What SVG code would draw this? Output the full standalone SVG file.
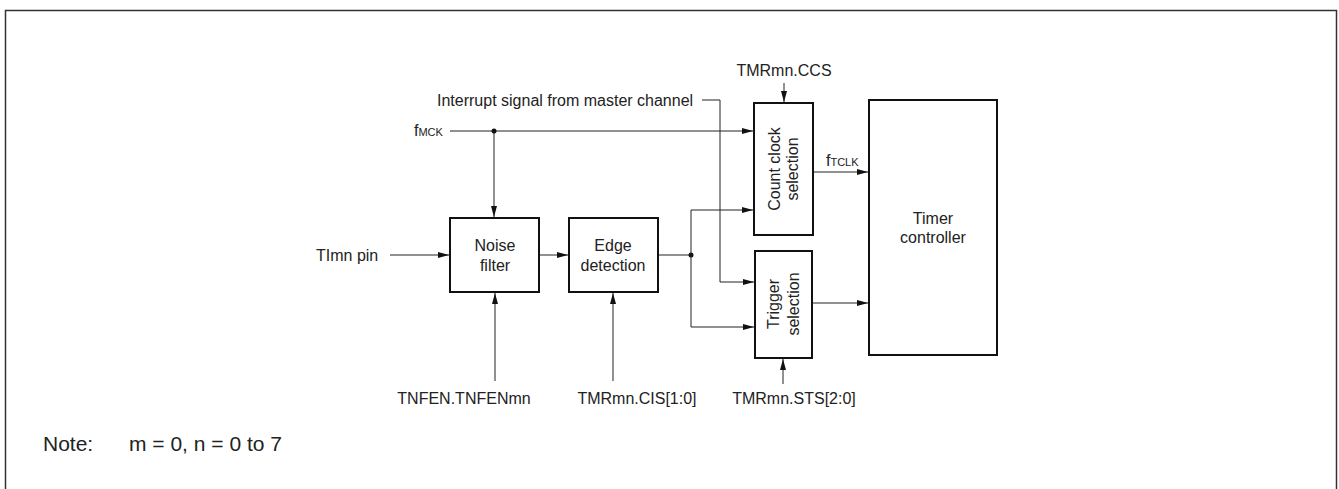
<svg xmlns="http://www.w3.org/2000/svg" width="1339" height="489" viewBox="0 0 1339 489">
<style>
text{font-family:"Liberation Sans",Arial,sans-serif;fill:#222;font-size:16px}
.sub{font-size:11px}
.note{font-size:21px}
.box{fill:#fff;stroke:#111;stroke-width:2}
.w{fill:none;stroke:#222;stroke-width:1}
</style>
<defs>
<marker id="ah" markerWidth="12" markerHeight="8" refX="11" refY="4" orient="auto" markerUnits="userSpaceOnUse">
<path d="M0,1 L11,4 L0,7 Z" fill="#111"/>
</marker>
</defs>
<rect x="5.5" y="10.5" width="1331" height="490" fill="#fff" stroke="#333" stroke-width="1.5"/>
<g id="connectors">
<polyline class="w" points="450,131 753,131" marker-end="url(#ah)"/>
<polyline class="w" points="494,131 494,217" marker-end="url(#ah)"/>
<circle cx="494" cy="131" r="2.5" fill="#111"/>
<polyline class="w" points="702,100 720,100 720,282 754,282" marker-end="url(#ah)"/>
<polyline class="w" points="390,255 449,255" marker-end="url(#ah)"/>
<polyline class="w" points="539,255 568,255" marker-end="url(#ah)"/>
<polyline class="w" points="658,255 691,255"/>
<circle cx="691" cy="255" r="2.5" fill="#111"/>
<polyline class="w" points="691,255 691,210 753,210" marker-end="url(#ah)"/>
<polyline class="w" points="691,255 691,327 754,327" marker-end="url(#ah)"/>
<polyline class="w" points="495,381 495,293" marker-end="url(#ah)"/>
<polyline class="w" points="613,381 613,293" marker-end="url(#ah)"/>
<polyline class="w" points="783,384 783,359" marker-end="url(#ah)"/>
<polyline class="w" points="784,83 784,102" marker-end="url(#ah)"/>
<polyline class="w" points="813,172 868,172" marker-end="url(#ah)"/>
<polyline class="w" points="812,303 868,303" marker-end="url(#ah)"/>
</g>
<g id="labels">
<text x="414" y="136">f<tspan class="sub">MCK</tspan></text>
<text x="437" y="106">Interrupt signal from master channel</text>
<text x="316" y="261">TImn pin</text>
<text x="784" y="76" text-anchor="middle">TMRmn.CCS</text>
<text x="826" y="166">f<tspan class="sub">TCLK</tspan></text>
<text x="464" y="404" text-anchor="middle">TNFEN.TNFENmn</text>
<text x="637" y="404" text-anchor="middle">TMRmn.CIS[1:0]</text>
<text x="794" y="404" text-anchor="middle">TMRmn.STS[2:0]</text>
<text class="note" x="43" y="451">Note:</text>
<text class="note" x="129" y="451">m = 0, n = 0 to 7</text>
</g>
<g id="noise-filter">
<rect class="box" x="450" y="218" width="89" height="74"/>
<text x="495" y="251" text-anchor="middle">Noise</text>
<text x="495" y="271" text-anchor="middle">filter</text>
</g>
<g id="edge-detection">
<rect class="box" x="569" y="218" width="89" height="74"/>
<text x="613" y="251" text-anchor="middle">Edge</text>
<text x="613" y="271" text-anchor="middle">detection</text>
</g>
<g id="count-clock">
<rect class="box" x="754" y="103" width="59" height="132"/>
<text transform="translate(780,169) rotate(-90)" text-anchor="middle">Count clock</text>
<text transform="translate(798,169) rotate(-90)" text-anchor="middle">selection</text>
</g>
<g id="trigger">
<rect class="box" x="755" y="251" width="57" height="107"/>
<text transform="translate(779,304) rotate(-90)" text-anchor="middle">Trigger</text>
<text transform="translate(799,304) rotate(-90)" text-anchor="middle">selection</text>
</g>
<g id="timer-controller">
<rect class="box" x="869" y="100" width="128" height="255"/>
<text x="933" y="224" text-anchor="middle">Timer</text>
<text x="933" y="243" text-anchor="middle">controller</text>
</g>
</svg>
